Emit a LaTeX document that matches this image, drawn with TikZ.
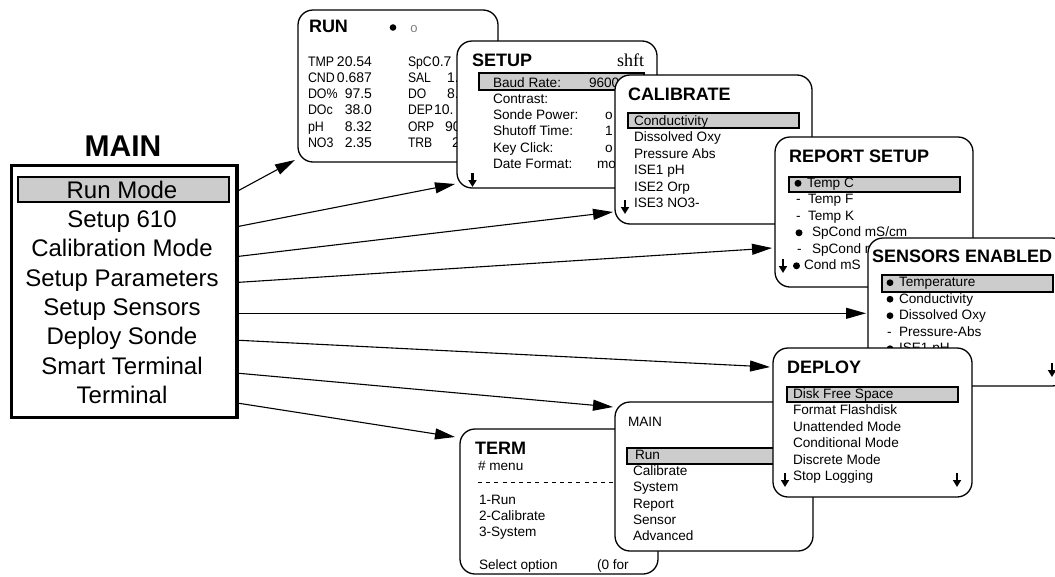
\documentclass[tikz,border=0pt]{standalone}
\usepackage{fontspec}
\setmainfont{Liberation Sans}
\newfontfamily\serifft{Liberation Serif}
\usetikzlibrary{arrows.meta,calc}
\tikzset{
  scrbox/.style={draw, line width=1.3pt, fill=white, rounded corners=15pt, anchor=north west, inner sep=0pt, outer sep=0pt},
  hlbar/.style={draw, line width=1.2pt, fill=gray!40},
  itm/.style={anchor=base west, inner sep=0pt, outer sep=0pt, font=\fontsize{13.6pt}{16pt}\selectfont},
  itmr/.style={anchor=base east, inner sep=0pt, outer sep=0pt, font=\fontsize{14pt}{16pt}\selectfont},
  runl/.style={anchor=base west, inner sep=0pt, outer sep=0pt, font=\fontsize{13.8pt}{16pt}\selectfont},
  runv/.style={anchor=base west, inner sep=0pt, outer sep=0pt, font=\fontsize{14pt}{16pt}\selectfont},
  ttl/.style={anchor=base west, inner sep=0pt, outer sep=0pt, font=\fontsize{18pt}{20pt}\selectfont\bfseries},
  mitm/.style={anchor=base, inner sep=0pt, outer sep=0pt, font=\fontsize{24pt}{28pt}\selectfont},
  conn/.style={line width=1.1pt, -{Triangle[length=20pt,width=11pt]}},
  dnarr/.style={line width=2.6pt, -{Triangle[length=7pt,width=8pt]}},
}
\begin{document}
\begin{tikzpicture}[x=1pt,y=-1pt]
\useasboundingbox (0,0) rectangle (1055,576);
\clip (0,0) rectangle (1055,576);
\fill[white] (0,0) rectangle (1055,576);

% ---------------- MAIN (big) ----------------
\node[draw, line width=3.5pt, anchor=north west, inner sep=0pt, outer sep=0pt,
      minimum width=225.7pt, minimum height=252pt] (mainbox) at (11.3,165.3) {};
\draw[hlbar, line width=1.4pt] (18,177) rectangle (229,202);
\node[anchor=base, inner sep=0pt, font=\fontsize{30pt}{32pt}\selectfont\bfseries] (maintitle) at (123,156.7) {MAIN};
\node[mitm] (m1) at (122,198.3) {Run Mode};
\node[mitm] (m2) at (122,227.6) {Setup 610};
\node[mitm] (m3) at (122,256.9) {Calibration Mode};
\node[mitm] (m4) at (122,286.2) {Setup Parameters};
\node[mitm] (m5) at (122,315.5) {Setup Sensors};
\node[mitm] (m6) at (122,344.8) {Deploy Sonde};
\node[mitm] (m7) at (122,374.1) {Smart Terminal};
\node[mitm] (m8) at (122,403.4) {Terminal};

% ---------------- RUN ----------------
\node[scrbox, minimum width=200pt, minimum height=152pt] (run) at (298,10) {};
\node[ttl] (runt) at (309,32.3) {RUN};
\fill (393,27.5) circle (3.3pt);
\node[anchor=base, inner sep=0pt, text=gray, font=\fontsize{13pt}{14pt}\selectfont] (runo) at (414,32) {o};
\foreach \i/\l/\v in {0/TMP/20.54,1/CND/0.687,2/DO\%/97.5,3/DOc/38.0,4/pH/8.32,5/NO3/2.35}{
  \node[runl] (runl\i) at (308,66+16.3*\i) {\scalebox{0.9}[1]{\l}};
  \node[itmr] (runv\i) at (372,66+16.3*\i) {\v};
}
\foreach \i/\l/\x/\v in {0/SpC/432/0.7,1/SAL/447/1.,2/DO/447/8.,3/DEP/434/10.,4/ORP/445/90,5/TRB/452/2}{
  \node[runl] (runr\i) at (408,66+16.3*\i) {\scalebox{0.88}[1]{\l}};
  \node[runv] (runw\i) at (\x,66+16.3*\i) {\v};
}

% ---------------- SETUP ----------------
\node[scrbox, minimum width=200pt, minimum height=147pt] (setup) at (457,41) {};
\node[ttl] (setupt) at (472,66) {SETUP};
\node[anchor=base west, inner sep=0pt, font=\serifft\fontsize{18pt}{20pt}\selectfont] (shft) at (617,66) {shft};
\draw[hlbar] (479,73) rectangle (644,90);
\foreach \i/\l in {0/Baud Rate:,1/Contrast:,2/Sonde Power:,3/Shutoff Time:,4/Key Click:,5/Date Format:}{
  \node[itm] (setl\i) at (493,87.3+16.2*\i) {\l};
}
\node[itm] (setv0) at (589,87.3) {9600};
\node[itm] (setv2) at (605,119.7) {o};
\node[itm] (setv3) at (605,135.9) {1};
\node[itm] (setv4) at (605,152.1) {o};
\node[itm] (setv5) at (597,168.3) {mo};
\draw[dnarr] (472.5,173) -- (472.5,187);

% ---------------- CALIBRATE ----------------
\node[scrbox, minimum width=197pt, minimum height=149pt] (cal) at (615,75) {};
\node[ttl] (calt) at (628,100) {CALIBRATE};
\draw[hlbar] (628,113) rectangle (799,128);
\foreach \i/\l in {0/Conductivity,1/Dissolved Oxy,2/Pressure Abs,3/ISE1 pH,4/ISE2 Orp,5/ISE3 NO3-}{
  \node[itm] (call\i) at (634,125+16.5*\i) {\l};
}
\draw[dnarr] (625,200) -- (625,214);

% ---------------- REPORT SETUP ----------------
\node[scrbox, minimum width=198pt, minimum height=150pt] (rep) at (775,137) {};
\node[ttl] (rept) at (789,162) {REPORT SETUP};
\draw[hlbar] (789,177) rectangle (960,192);
\fill (798,183.3) circle (3.5pt);
\node[itm] (rep0) at (807,187.3) {Temp C};
\node[itm] (repd1) at (796,203.8) {-};
\node[itm] (rep1) at (808,203.8) {Temp F};
\node[itm] (repd2) at (796,220.3) {-};
\node[itm] (rep2) at (808,220.3) {Temp K};
\fill (799,232.8) circle (3.5pt);
\node[itm] (rep3) at (812,236.8) {SpCond mS/cm};
\node[itm] (repd4) at (797,253.3) {-};
\node[itm] (rep4) at (812,253.3) {SpCond m};
\fill (796.5,265.8) circle (3.5pt);
\node[itm] (rep5) at (804,269.8) {Cond mS};
\draw[dnarr] (783,259) -- (783,273);

% ---------------- SENSORS ENABLED ----------------
\node[scrbox, minimum width=199pt, minimum height=148pt] (sens) at (868,238) {};
\node[ttl] (senst) at (872,262) {SENSORS ENABLED};
\draw[hlbar] (882,275) rectangle (1053,292);
\fill (890,282.7) circle (3.4pt);
\node[itm] (sens0) at (899,286.7) {Temperature};
\fill (890,299.2) circle (3.4pt);
\node[itm] (sens1) at (899,303.2) {Conductivity};
\fill (890,315.7) circle (3.4pt);
\node[itm] (sens2) at (899,319.7) {Dissolved Oxy};
\node[itm] (sensd3) at (887,336.2) {-};
\node[itm] (sens3) at (899,336.2) {Pressure-Abs};
\fill (890,348.7) circle (3.4pt);
\node[itm] (sens4) at (899,352.7) {ISE1 pH};
\draw[dnarr] (1052,363) -- (1052,377);

% ---------------- TERM ----------------
\node[scrbox, minimum width=198pt, minimum height=145pt] (term) at (460,429) {};
\node[ttl] (termt) at (475,454) {TERM};
\node[itm] (term0) at (478,470.7) {\# menu};
\draw[line width=1pt, dash pattern=on 4pt off 4.2pt] (478,482) -- (615,482);
\node[itm] (term1) at (479,504) {1-Run};
\node[itm] (term2) at (479,520.3) {2-Calibrate};
\node[itm] (term3) at (479,536.7) {3-System};
\node[itm] (term4) at (479,569.3) {Select option};
\node[itm] (term5) at (597,569.3) {(0 for};

% ---------------- MAIN (small) ----------------
\node[scrbox, minimum width=198pt, minimum height=149pt] (mm) at (615,402) {};
\node[itm] (mmt) at (628,426) {MAIN};
\draw[hlbar] (627,448) rectangle (800,464);
\node[itm] (mm0) at (635,459.3) {Run};
\foreach \i/\l in {1/Calibrate,2/System,3/Report,4/Sensor,5/Advanced}{
  \node[itm] (mm\i) at (633,459.3+16.3*\i) {\l};
}

% ---------------- DEPLOY ----------------
\node[scrbox, minimum width=199pt, minimum height=149pt] (dep) at (773,348) {};
\node[ttl] (dept) at (787,373) {DEPLOY};
\draw[hlbar] (787,387) rectangle (958,402);
\foreach \i/\l in {0/Disk Free Space,1/Format Flashdisk,2/Unattended Mode,3/Conditional Mode,4/Discrete Mode,5/Stop Logging}{
  \node[itm] (dep\i) at (793,398.3+16.5*\i) {\l};
}
\draw[dnarr] (785,473) -- (785,487);
\draw[dnarr] (957,473) -- (957,487);

% ---------------- connectors ----------------
\draw[conn] ($(mainbox.north east)+(2,25)$) -- ($(run.south west)+(-3,-2)$);
\draw[conn] ($(mainbox.north east)+(2,61)$) -- ($(setup.south west)+(-2,-4)$);
\draw[conn] ($(mainbox.north east)+(2,91)$) -- ($(cal.south west)+(-2,-12)$);
\draw[conn] ($(mainbox.north east)+(2,117)$) -- ($(rep.south west)+(-3,-39)$);
\coordinate (s5) at ($(mainbox.north east)+(2,148)$);
\draw[conn] (s5) -- ($(s5 -| sens.west)+(-2,0)$);
\draw[conn] ($(mainbox.north east)+(2,175)$) -- ($(dep.north west)+(-3,19)$);
\draw[conn] ($(mainbox.north east)+(2,208)$) -- ($(mm.north west)+(-2,5)$);
\draw[conn] ($(mainbox.north east)+(2,238)$) -- ($(term.north west)+(-5,8)$);
\end{tikzpicture}
\end{document}
